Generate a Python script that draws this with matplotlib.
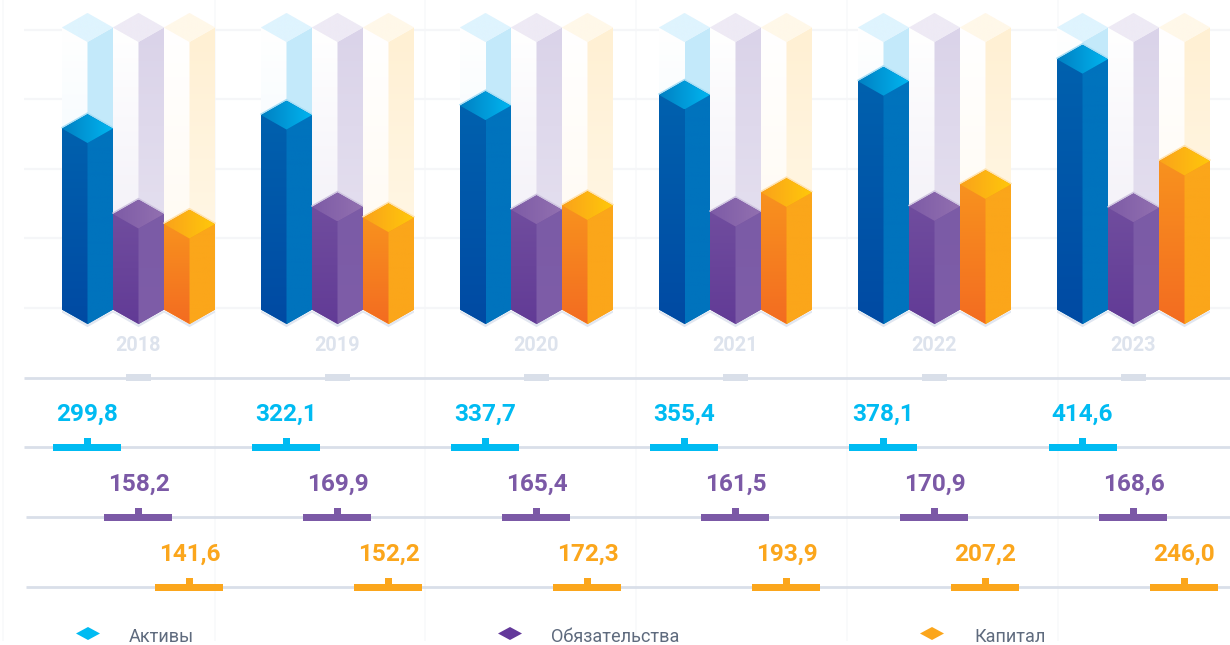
import numpy as np
import matplotlib
matplotlib.use("Agg")
import matplotlib.pyplot as plt
from matplotlib.patches import Polygon, Rectangle
from matplotlib.colors import to_rgb

years = ["2018", "2019", "2020", "2021", "2022", "2023"]
series_names = ["Активы", "Обязательства", "Капитал"]
assets = [299.8, 322.1, 337.7, 355.4, 378.1, 414.6]
liabilities = [158.2, 169.9, 165.4, 161.5, 170.9, 168.6]
equity = [141.6, 152.2, 172.3, 193.9, 207.2, 246.0]
ghost_max = 467
grid_values = [3, 118, 233, 348, 463]

W, H = 1230, 645
UNIT = 0.604      # px per value unit
GROUP = 199.0     # px per year
X0 = 138.5        # px of first group centre
Y0 = 309.6        # px of zero level

plt.rcParams["font.family"] = ["Roboto", "DejaVu Sans"]
fig = plt.figure(figsize=(W / 100, H / 100), dpi=100, facecolor="white")
ax = fig.add_axes([0, 0, 1, 1])
ax.set_xlim(-X0 / GROUP, (W - X0) / GROUP)
ax.set_ylim((Y0 - H) / UNIT, Y0 / UNIT)
ax.axis("off")

px_x = GROUP ** -1
px_y = 1 / UNIT


def xfrom(p):
    return (p - X0) / GROUP


def yfrom(p):
    return (Y0 - p) / UNIT


def grad_poly(pts, c0, c1, z, horizontal=False):
    """Polygon filled with a linear gradient c0->c1 (top->bottom or left->right)."""
    pts = np.array(pts)
    xmin, xmax = pts[:, 0].min(), pts[:, 0].max()
    ymin, ymax = pts[:, 1].min(), pts[:, 1].max()
    t = np.linspace(0, 1, 128)
    a, b = np.array(to_rgb(c0)), np.array(to_rgb(c1))
    g = a[None, :] * (1 - t[:, None]) + b[None, :] * t[:, None]
    img = g[None, :, :] if horizontal else g[:, None, :]
    im = ax.imshow(img, extent=(xmin, xmax, ymin, ymax), origin="upper", aspect="auto",
                   zorder=z, interpolation="bilinear")
    clip = Polygon(pts, closed=True, transform=ax.transData, fc="none", ec="none")
    ax.add_patch(clip)
    im.set_clip_path(clip)


def prism(cx, v, pal, z):
    """Isometric column: cx in group units, v value height."""
    hw = 25.5 * px_x
    dy = 14.5 * px_y
    L, R = cx - hw, cx + hw
    ax.add_patch(Polygon([(L, v), (cx, v + dy), (R, v), (R, 0), (cx, -dy), (L, 0)],
                         fc=pal["back"], ec="none", zorder=z - 0.1))
    if "glow" in pal:
        ax.plot([L, cx, R], [v + 1 * px_y, v + dy + 1 * px_y, v + 1 * px_y],
                color=pal["glow"], lw=1.0, zorder=z - 0.05, solid_joinstyle="miter")
    overlap = 0.6 * px_x
    grad_poly([(L, v), (cx + overlap, v - dy), (cx + overlap, -dy), (L, 0)], pal["l0"], pal["l1"], z)
    grad_poly([(cx, v - dy), (R, v), (R, 0), (cx, -dy)], pal["r0"], pal["r1"], z + 0.05)
    grad_poly([(L, v), (cx, v + dy), (R, v), (cx, v - dy)], pal["t0"], pal["t1"], z + 0.1, horizontal=True)


solid = [
    dict(back="#0066B2", glow="#A8DFF6", l0="#0061AE", l1="#004AA3", r0="#0073BD", r1="#0073BD", t0="#0080C2", t1="#00B5F0"),
    dict(back="#6E4C9E", glow="#CFC5E0", l0="#704D9E", l1="#623B96", r0="#7B5BA6", r1="#7E5DA8", t0="#7D5BA6", t1="#9270B0"),
    dict(back="#F68A1E", glow="#FFE3AE", l0="#F8921E", l1="#F36C21", r0="#FBA61A", r1="#FBA61A", t0="#FAA21B", t1="#FFC80A"),
]
ghost = [
    dict(back="#F0F9FE", l0="#FFFFFF", l1="#E9F6FD", r0="#C3E9FB", r1="#C6EAFA", t0="#DFF4FE", t1="#DFF4FE"),
    dict(back="#F5F3F9", l0="#FFFFFF", l1="#EEEBF5", r0="#DAD3E9", r1="#E9E5F2", t0="#EEEAF5", t1="#EEEAF5"),
    dict(back="#FFFBF3", l0="#FFFFFF", l1="#FFF9EE", r0="#FFF0D3", r1="#FFF9EC", t0="#FFF8E9", t1="#FFF8E9"),
]
accent = ["#00BBF2", "#7B59A6", "#FBA61C"]
series = [assets, liabilities, equity]

GRID = "#F5F6F8"
AXIS = "#D9DFE9"
sep_px = [3, 215, 425, 636, 847, 1058]
for p in sep_px:
    ax.plot([xfrom(p)] * 2, [yfrom(0), yfrom(640)], color="#F9FAFB", lw=1.4, zorder=0.5)
for g in grid_values:
    ax.plot([xfrom(24), xfrom(W)], [g, g], color=GRID, lw=1.6, zorder=1, solid_capstyle="butt")

offsets = [-51 / GROUP, 0, 51 / GROUP]
z = 3
for i in range(len(years)):
    for s, vals in enumerate(series):
        cx = i + offsets[s]
        hw, dy = 25.5 * px_x, 14.5 * px_y
        ax.add_patch(Polygon([(cx - hw, -1 * px_y), (cx, -dy - 0 * px_y), (cx + hw, -1 * px_y),
                              (cx + hw, -3 * px_y), (cx, -dy - 3 * px_y), (cx - hw, -3 * px_y)],
                             fc="#E1E6F0", ec="none", zorder=2))
        prism(cx, ghost_max, ghost[s], z)
        prism(cx, vals[i], solid[s], z + 1)
        z += 2

ax.set_xlim(-X0 / GROUP, (W - X0) / GROUP)
ax.set_ylim((Y0 - H) / UNIT, Y0 / UNIT)

# year axis
for i, y in enumerate(years):
    ax.text(i, yfrom(345), y, color="#DDE3ED", fontsize=14.3, fontweight="bold",
            ha="center", va="center", zorder=50)
ax.plot([xfrom(24), xfrom(W)], [yfrom(377.5)] * 2, color=AXIS, lw=2, zorder=5, solid_capstyle="butt")
for i in range(len(years)):
    ax.add_patch(Rectangle((i - 12.5 * px_x, yfrom(381)), 25 * px_x, 7 * px_y, fc=AXIS, ec="none", zorder=6))

# value rows
row_y = [447.3, 517, 587]
text_y = [414, 484, 554]
row_start = [24, 26, 26]
for s, vals in enumerate(series):
    ax.plot([xfrom(row_start[s]), xfrom(W)], [yfrom(row_y[s])] * 2, color=AXIS, lw=2, zorder=5, solid_capstyle="butt")
    for i, v in enumerate(vals):
        cx = i + offsets[s]
        ax.add_patch(Rectangle((cx - 34 * px_x, yfrom(row_y[s] + 3.5)), 68 * px_x, 7 * px_y,
                               fc=accent[s], ec="none", zorder=6))
        ax.add_patch(Rectangle((cx - 3.5 * px_x, yfrom(row_y[s])), 7 * px_x, 9 * px_y,
                               fc=accent[s], ec="none", zorder=6))
        ax.text(cx, yfrom(text_y[s]), f"{v:.1f}".replace(".", ","), color=accent[s],
                fontsize=17.6, fontweight="bold", ha="center", va="center", zorder=50)

# legend
leg_x = [88, 510, 932]
leg_tx = [129, 551, 974]
leg_col = ["#00BBF2", "#63399A", "#FBA61C"]
for s, name in enumerate(series_names):
    cx = xfrom(leg_x[s])
    cy = yfrom(633.5)
    hw, hh = 12 * px_x, 6.5 * px_y
    ax.add_patch(Polygon([(cx - hw, cy), (cx, cy + hh), (cx + hw, cy), (cx, cy - hh)],
                         fc=leg_col[s], ec="none", zorder=6))
    ax.text(xfrom(leg_tx[s]), yfrom(637), name, color="#5F6B7E", fontsize=13.1,
            ha="left", va="center", zorder=50)

fig.savefig("out.png", dpi=100, facecolor="white")
